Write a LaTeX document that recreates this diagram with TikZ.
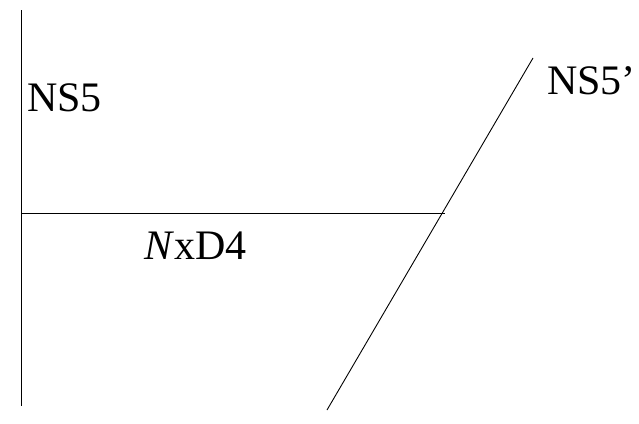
\documentclass[tikz,border=0pt]{standalone}
\usepackage{fontspec}
\setmainfont{Liberation Serif}
\begin{document}
\begin{tikzpicture}[x=1pt,y=-1pt,
  brane/.style={line width=0.9pt,black},
  lbl/.style={inner sep=0pt,anchor=base west,font=\fontsize{42}{42}\selectfont}]
\useasboundingbox (0,0) rectangle (639,423);
\coordinate (vt) at (21,10);
\coordinate (vb) at (21,406);
\coordinate (hl) at (21,213);
\coordinate (hr) at (445,213);
\coordinate (dt) at (533,58);
\coordinate (db) at (327,410);
\draw[brane] (vt) -- (vb);
\draw[brane] (hl) -- (hr);
\draw[brane] (dt) -- (db);
\node[lbl] (ns5) at (27,111) {NS5};
\node[lbl] (ns5p) at (547,94) {NS5’};
\node[lbl] (d4) at (144,259) {\textit{N}xD4};
\end{tikzpicture}
\end{document}
